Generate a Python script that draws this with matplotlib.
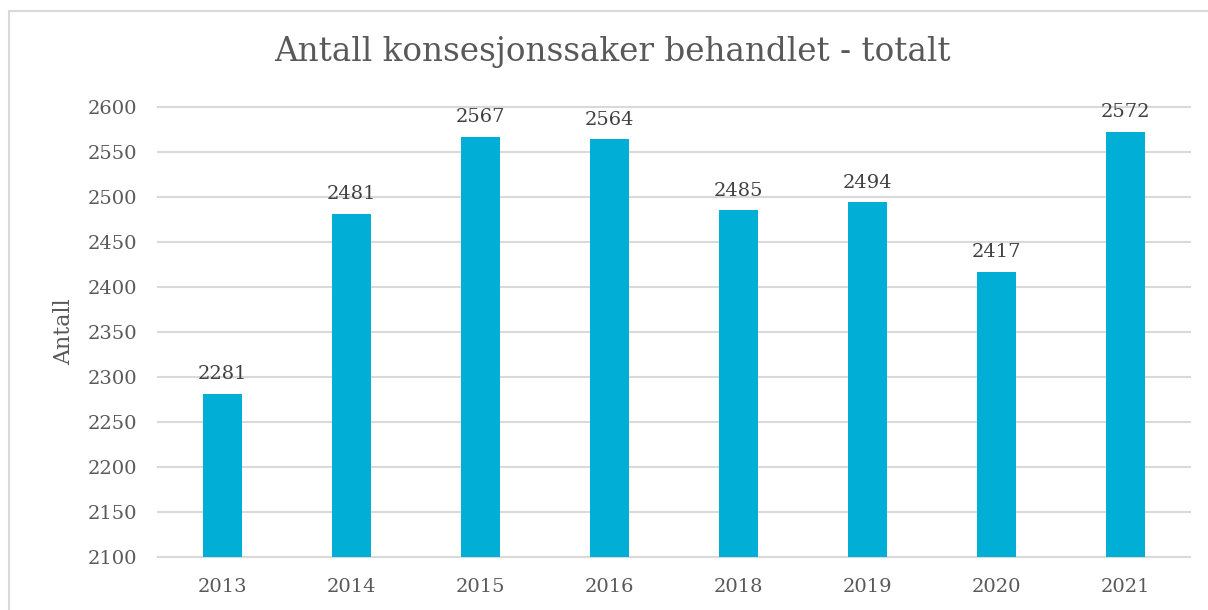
import matplotlib
matplotlib.use("Agg")
import matplotlib.pyplot as plt
from matplotlib.patches import Rectangle

categories = ["2013", "2014", "2015", "2016", "2018", "2019", "2020", "2021"]
values = [2281, 2481, 2567, 2564, 2485, 2494, 2417, 2572]
yticks = [2100, 2150, 2200, 2250, 2300, 2350, 2400, 2450, 2500, 2550, 2600]

plt.rcParams['font.family'] = ['DejaVu Serif']
text_color = "#595959"
bar_color = "#00AED6"
grid_color = "#D9D9D9"

fig = plt.figure(figsize=(12.08, 6.10), dpi=100)
fig.patches.append(Rectangle((9/1208, -0.1), 1.1, 1 - 11/610 + 0.1, transform=fig.transFigure,
                             fill=False, edgecolor=grid_color, linewidth=1.5))
ax = fig.add_axes([158/1208, 1 - 557/610, (1190 - 158)/1208, (557 - 107)/610])

x = list(range(len(categories)))
ax.bar(x, values, width=0.31, color=bar_color, zorder=3)
for xi, v in zip(x, values):
    ax.text(xi, v + 12, str(v), ha="center", va="bottom", fontsize=14, color="#404040")

ax.set_xlim(-0.5, len(categories) - 0.5)
ax.set_ylim(2100, 2600)
ax.set_yticks(yticks)
ax.set_yticklabels([str(t) for t in yticks], fontsize=14, color=text_color)
ax.set_xticks(x)
ax.set_xticklabels(categories, fontsize=14, color=text_color)
ax.tick_params(axis="both", length=0)
ax.tick_params(axis="y", pad=15)
ax.tick_params(axis="x", pad=15)
ax.grid(axis="y", color=grid_color, linewidth=1.5, zorder=0)
for gl in ax.get_ygridlines():
    gl.set_clip_on(False)
for s in ax.spines.values():
    s.set_visible(False)
ax.set_ylabel("Antall", fontsize=16, color=text_color, labelpad=9)

fig.text(612/1208, 1 - 52/610, "Antall konsesjonssaker behandlet - totalt",
         ha="center", va="center", fontsize=23.5, color=text_color)

fig.savefig("out.png", dpi=100)
